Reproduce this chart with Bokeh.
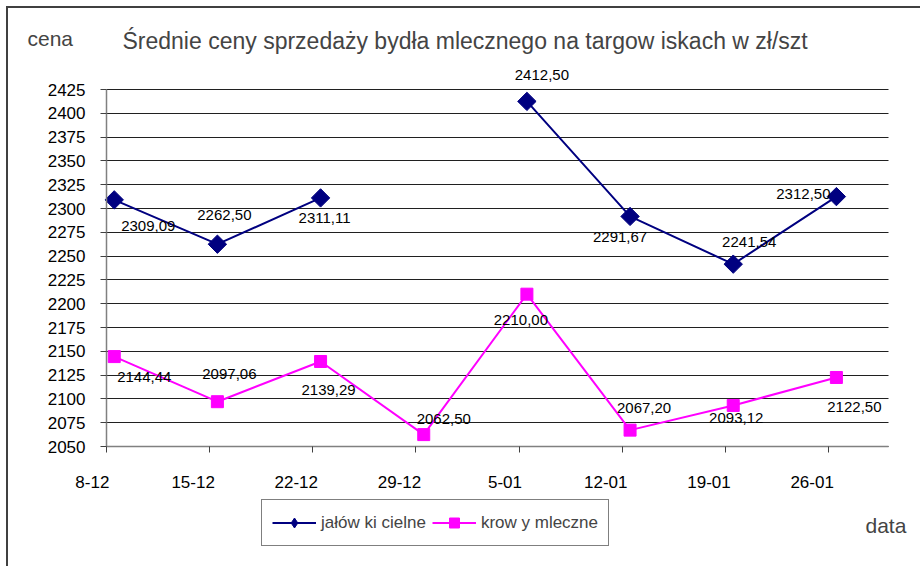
import numpy as np
from bokeh.plotting import figure
from bokeh.models import (ColumnDataSource, Range1d, FixedTicker, LabelSet, Label,
                          Legend, LegendItem)
from bokeh.core.properties import value
from bokeh.transform import dodge
from bokeh.embed import file_html
from bokeh.resources import INLINE

# ---- data ----
categories = ["8-12", "15-12", "22-12", "29-12", "5-01", "12-01", "19-01", "26-01"]
jalowki = [2309.09, 2262.50, 2311.11, np.nan, 2412.50, 2291.67, 2241.54, 2312.50]
krowy = [2144.44, 2097.06, 2139.29, 2062.50, 2210.00, 2067.20, 2093.12, 2122.50]
y_ticks = list(range(2050, 2426, 25))

# label offsets (px, screen-down positive) -- style only
jal_dx = [34, 7, 4, 0, 15, -10, 16, -33]
jal_dy = [26, -29, 20, 0, -26, 21, -22, -3]
kro_dx = [30, 12, 8, 20, -6, 14, 3, 18]
kro_dy = [20, -28, 29, -16, 26, -22, 13, 30]

FONT = "Liberation Sans"
NAVY = "#000080"
MAGENTA = "#FF00FF"

W, H = 920, 566
# plotting area in pixels (layout): left, right, top, bottom
PL, PR, PT, PB = 106, 888, 89, 446
X_END = 7.58                       # categories axis end (x=0 at left edge of plot area)
ppx = (PR - PL) / X_END
ppy = (PB - PT) / (y_ticks[-1] - y_ticks[0])
x_range = Range1d(-PL / ppx, (W - PL) / ppx)
y_range = Range1d(y_ticks[0] - (H - PB) / ppy, y_ticks[-1] + PT / ppy)

idx = list(range(len(categories)))
src_j = ColumnDataSource(dict(x=idx, y=jalowki))
src_k = ColumnDataSource(dict(x=idx, y=krowy))

def fmt(v):
    return f"{v:.2f}".replace(".", ",")

jl = [(i, v, dx, -dy) for i, v, dx, dy in zip(idx, jalowki, jal_dx, jal_dy) if not np.isnan(v)]
lab_j = ColumnDataSource(dict(x=[a[0] for a in jl], y=[a[1] for a in jl],
                              t=[fmt(a[1]) for a in jl],
                              dx=[a[2] for a in jl], dy=[a[3] for a in jl]))
lab_k = ColumnDataSource(dict(x=idx, y=krowy, t=[fmt(v) for v in krowy],
                              dx=kro_dx, dy=[-d for d in kro_dy]))

p = figure(width=W, height=H, output_backend="svg", toolbar_location=None,
           x_range=x_range, y_range=y_range,
           min_border_left=0, min_border_right=0, min_border_top=0, min_border_bottom=0)
p.styles = {"box-shadow": "inset 6px 6px 0 0 white, inset 8px 8px 0 0 #404040"}
p.title.visible = False
p.outline_line_color = None
p.background_fill_alpha = 0
p.border_fill_alpha = 0

# grid
p.xgrid.visible = False
p.ygrid.ticker = FixedTicker(ticks=y_ticks)
p.ygrid.grid_line_color = "#202020"
p.ygrid.grid_line_width = 1
try:
    p.ygrid.cross_bounds = (0, X_END)
except Exception:
    p.ygrid.visible = False
    p.segment(x0=[0] * len(y_ticks), x1=[X_END] * len(y_ticks), y0=y_ticks, y1=y_ticks,
              line_color="#202020", line_width=1)

# axes
p.yaxis.ticker = FixedTicker(ticks=y_ticks)
p.yaxis.bounds = (y_ticks[0], y_ticks[-1])
p.yaxis.fixed_location = 0
p.xaxis.ticker = FixedTicker(ticks=idx)
p.xaxis.bounds = (0, X_END)
p.xaxis.fixed_location = y_ticks[0]

def pad(c):
    # trailing no-break spaces shift the centred label left of its tick
    return c + "\u00a0" * max(0, len(c) + 2)

p.xaxis.major_label_overrides = {i: pad(c) for i, c in zip(idx, categories)}
for ax in (p.xaxis[0], p.yaxis[0]):
    ax.axis_line_color = "#808080"
    ax.axis_line_width = 1.5
    ax.major_tick_line_color = "#404040"
    ax.major_tick_out = 6
    ax.major_tick_in = 0
    ax.minor_tick_line_color = None
    ax.major_label_text_font = FONT
    ax.major_label_text_font_size = "17px"
    ax.major_label_text_color = "black"
p.yaxis.major_label_standoff = 15
p.xaxis.major_label_standoff = 20

xd = dodge("x", 0.075, range=p.x_range)

lj = p.line(x=xd, y="y", source=src_j, line_color=NAVY, line_width=2)
sj = p.scatter(x=xd, y="y", source=src_j, marker="square", angle=np.pi / 4, size=13,
               fill_color=NAVY, line_color=NAVY)
lk = p.line(x=xd, y="y", source=src_k, line_color=MAGENTA, line_width=2)
sk = p.scatter(x=xd, y="y", source=src_k, marker="square", size=12,
               fill_color=MAGENTA, line_color=MAGENTA)
# legend-only diamond icon (legend icons ignore marker angle)
dj = p.scatter(x=xd, y="y", source=src_j, marker="diamond", fill_color=NAVY,
               line_color=NAVY, visible=False)

for s in (lab_j, lab_k):
    p.add_layout(LabelSet(x=dodge("x", 0.075, range=p.x_range), y="y", text="t", source=s,
                          x_offset="dx", y_offset="dy", text_align="center",
                          text_baseline="middle", text_font=value(FONT),
                          text_font_size="15px", text_color="black"))

legend = Legend(items=[LegendItem(label="jałów ki cielne", renderers=[lj, dj]),
                       LegendItem(label="krow y mleczne", renderers=[lk, sk])],
                orientation="horizontal", location=(261, H - 546),
                border_line_color="black", border_line_width=1,
                padding=10, spacing=6, label_standoff=5, glyph_width=44, glyph_height=25,
                margin=0, label_text_font=FONT, label_text_font_size="17px",
                background_fill_color="white", background_fill_alpha=1)
p.add_layout(legend, "center")

title = Label(x=122, y=H - 40, x_units="screen", y_units="screen",
              text="Średnie ceny sprzedaży bydła mlecznego na targow iskach w  zł/szt",
              text_font=FONT, text_font_size="23px", text_baseline="middle", text_align="left")
cena = Label(x=27, y=H - 38, x_units="screen", y_units="screen", text="cena",
             text_font=FONT, text_font_size="21px", text_baseline="middle", text_align="left")
data_l = Label(x=865, y=H - 525, x_units="screen", y_units="screen", text="data",
               text_font=FONT, text_font_size="21px", text_baseline="middle", text_align="left")
for l in (title, cena, data_l):
    p.add_layout(l)

open("out.html", "w").write(file_html(p, INLINE))
